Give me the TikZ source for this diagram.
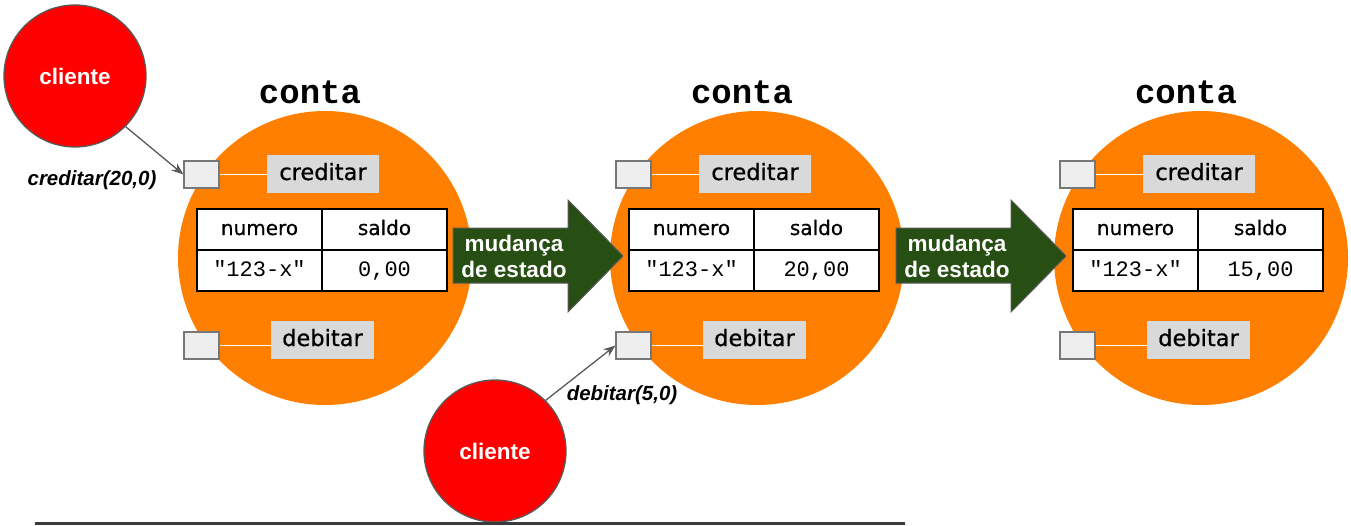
\documentclass[tikz,border=0pt]{standalone}
\usepackage{fontspec}
\setmainfont{Liberation Sans}
\newfontfamily\monofnt{Liberation Mono}
\newfontfamily\comicfnt[FakeBold=0.6]{DejaVu Sans}
\definecolor{contaorange}{HTML}{FF8000}
\definecolor{clired}{HTML}{FF0000}
\definecolor{portfill}{HTML}{EEEEEE}
\definecolor{portdraw}{HTML}{777777}
\definecolor{labfill}{HTML}{D9D9D9}
\definecolor{arrgreen}{HTML}{274E13}
\definecolor{edgegray}{HTML}{595959}
\definecolor{rulegray}{HTML}{3A3A3A}
\tikzset{
  conta/.style={circle, fill=contaorange, minimum size=294pt, inner sep=0pt},
  titletext/.style={font=\monofnt\bfseries\fontsize{34}{36}\selectfont, inner sep=0pt},
  port/.style={rectangle, fill=portfill, draw=portdraw, line width=1.2pt, minimum width=35pt, minimum height=27pt, inner sep=0pt},
  methbox/.style={rectangle, fill=labfill, inner sep=0pt, minimum height=38pt, text height=16pt, text depth=4pt, font=\comicfnt\fontsize{22.5}{24}\selectfont},
  portline/.style={draw=white, line width=1pt},
  cell/.style={rectangle, draw=black, fill=white, line width=1.6pt, minimum width=125pt, minimum height=41pt, inner sep=0pt},
  headtext/.style={font=\comicfnt\fontsize{20}{22}\selectfont, text height=14pt, text depth=3pt},
  valtext/.style={font=\monofnt\fontsize{22}{24}\selectfont, text height=15pt, text depth=3pt},
  cliente/.style={circle, fill=clired, draw=edgegray, line width=1.3pt, minimum size=142pt, inner sep=0pt, text=white, font=\bfseries\fontsize{22.5}{24}\selectfont},
  callarrow/.style={draw=edgegray, line width=1.3pt, -{Stealth[length=12pt,width=9pt]}},
  calllabel/.style={font=\bfseries\itshape\fontsize{20.5}{22}\selectfont, inner sep=0pt},
  bigarrow/.style={fill=arrgreen, draw=edgegray, line width=1pt},
  arrowtext/.style={text=white, font=\bfseries\fontsize{22.5}{26}\selectfont, align=center, inner sep=0pt}
}
\newcommand\contagrp[3]{%
  \begin{scope}[xshift=#2pt]
    \node[conta] (conta#1) at (325,258) {};
    \node[titletext] (title#1) at (310,92) {conta};
    \node[port] (pc#1) at (201.5,174.5) {};
    \node[methbox, minimum width=112pt] (lc#1) at (323,174) {creditar};
    \draw[portline] (pc#1.east) -- (pc#1.east -| lc#1.west);
    \node[port] (pd#1) at (201.5,345.5) {};
    \node[methbox, minimum width=103pt] (ld#1) at (322.5,340) {debitar};
    \draw[portline] (pd#1.east) -- (pd#1.east -| ld#1.west);
    \node[cell, headtext] (hn#1) at (259.5,229.5) {numero};
    \node[cell, headtext] (hs#1) at (384.5,229.5) {saldo};
    \node[cell, valtext] (vn#1) at (259.5,270.5) {"123-x"};
    \node[cell, valtext] (vs#1) at (384.5,270.5) {#3};
  \end{scope}}
\newcommand\bigarr[2]{%
  \begin{scope}[xshift=#2pt]
    \path[bigarrow] (453,228) -- (568,228) -- (568,200) -- (623,256) -- (568,312) -- (568,283) -- (453,283) -- cycle;
    \node[arrowtext] (#1) at (514,256) {mudança\\de estado};
  \end{scope}}
\usetikzlibrary{arrows.meta}
\begin{document}
\begin{tikzpicture}[x=1pt,y=-1pt]
\useasboundingbox (0,0) rectangle (1351,525);
\contagrp{A}{0}{0,00}
\contagrp{B}{432}{20,00}
\contagrp{C}{876}{15,00}
\bigarr{mudA}{0}
\bigarr{mudB}{443}
\node[cliente] (cli1) at (75,76) {cliente};
\node[cliente] (cli2) at (495,451) {cliente};
\draw[callarrow] (cli1.-45) -- (pcA.west);
\draw[callarrow] (cli2.45) -- (pdB.west);
\node[calllabel] (lab1) at (92,180) {creditar(20,0)};
\node[calllabel] (lab2) at (622,395) {debitar(5,0)};
\coordinate (ruleL) at (35,523.5);
\coordinate (ruleR) at (905,523.5);
\draw[rulegray, line width=3pt] (ruleL) -- (ruleR);
\end{tikzpicture}
\end{document}
